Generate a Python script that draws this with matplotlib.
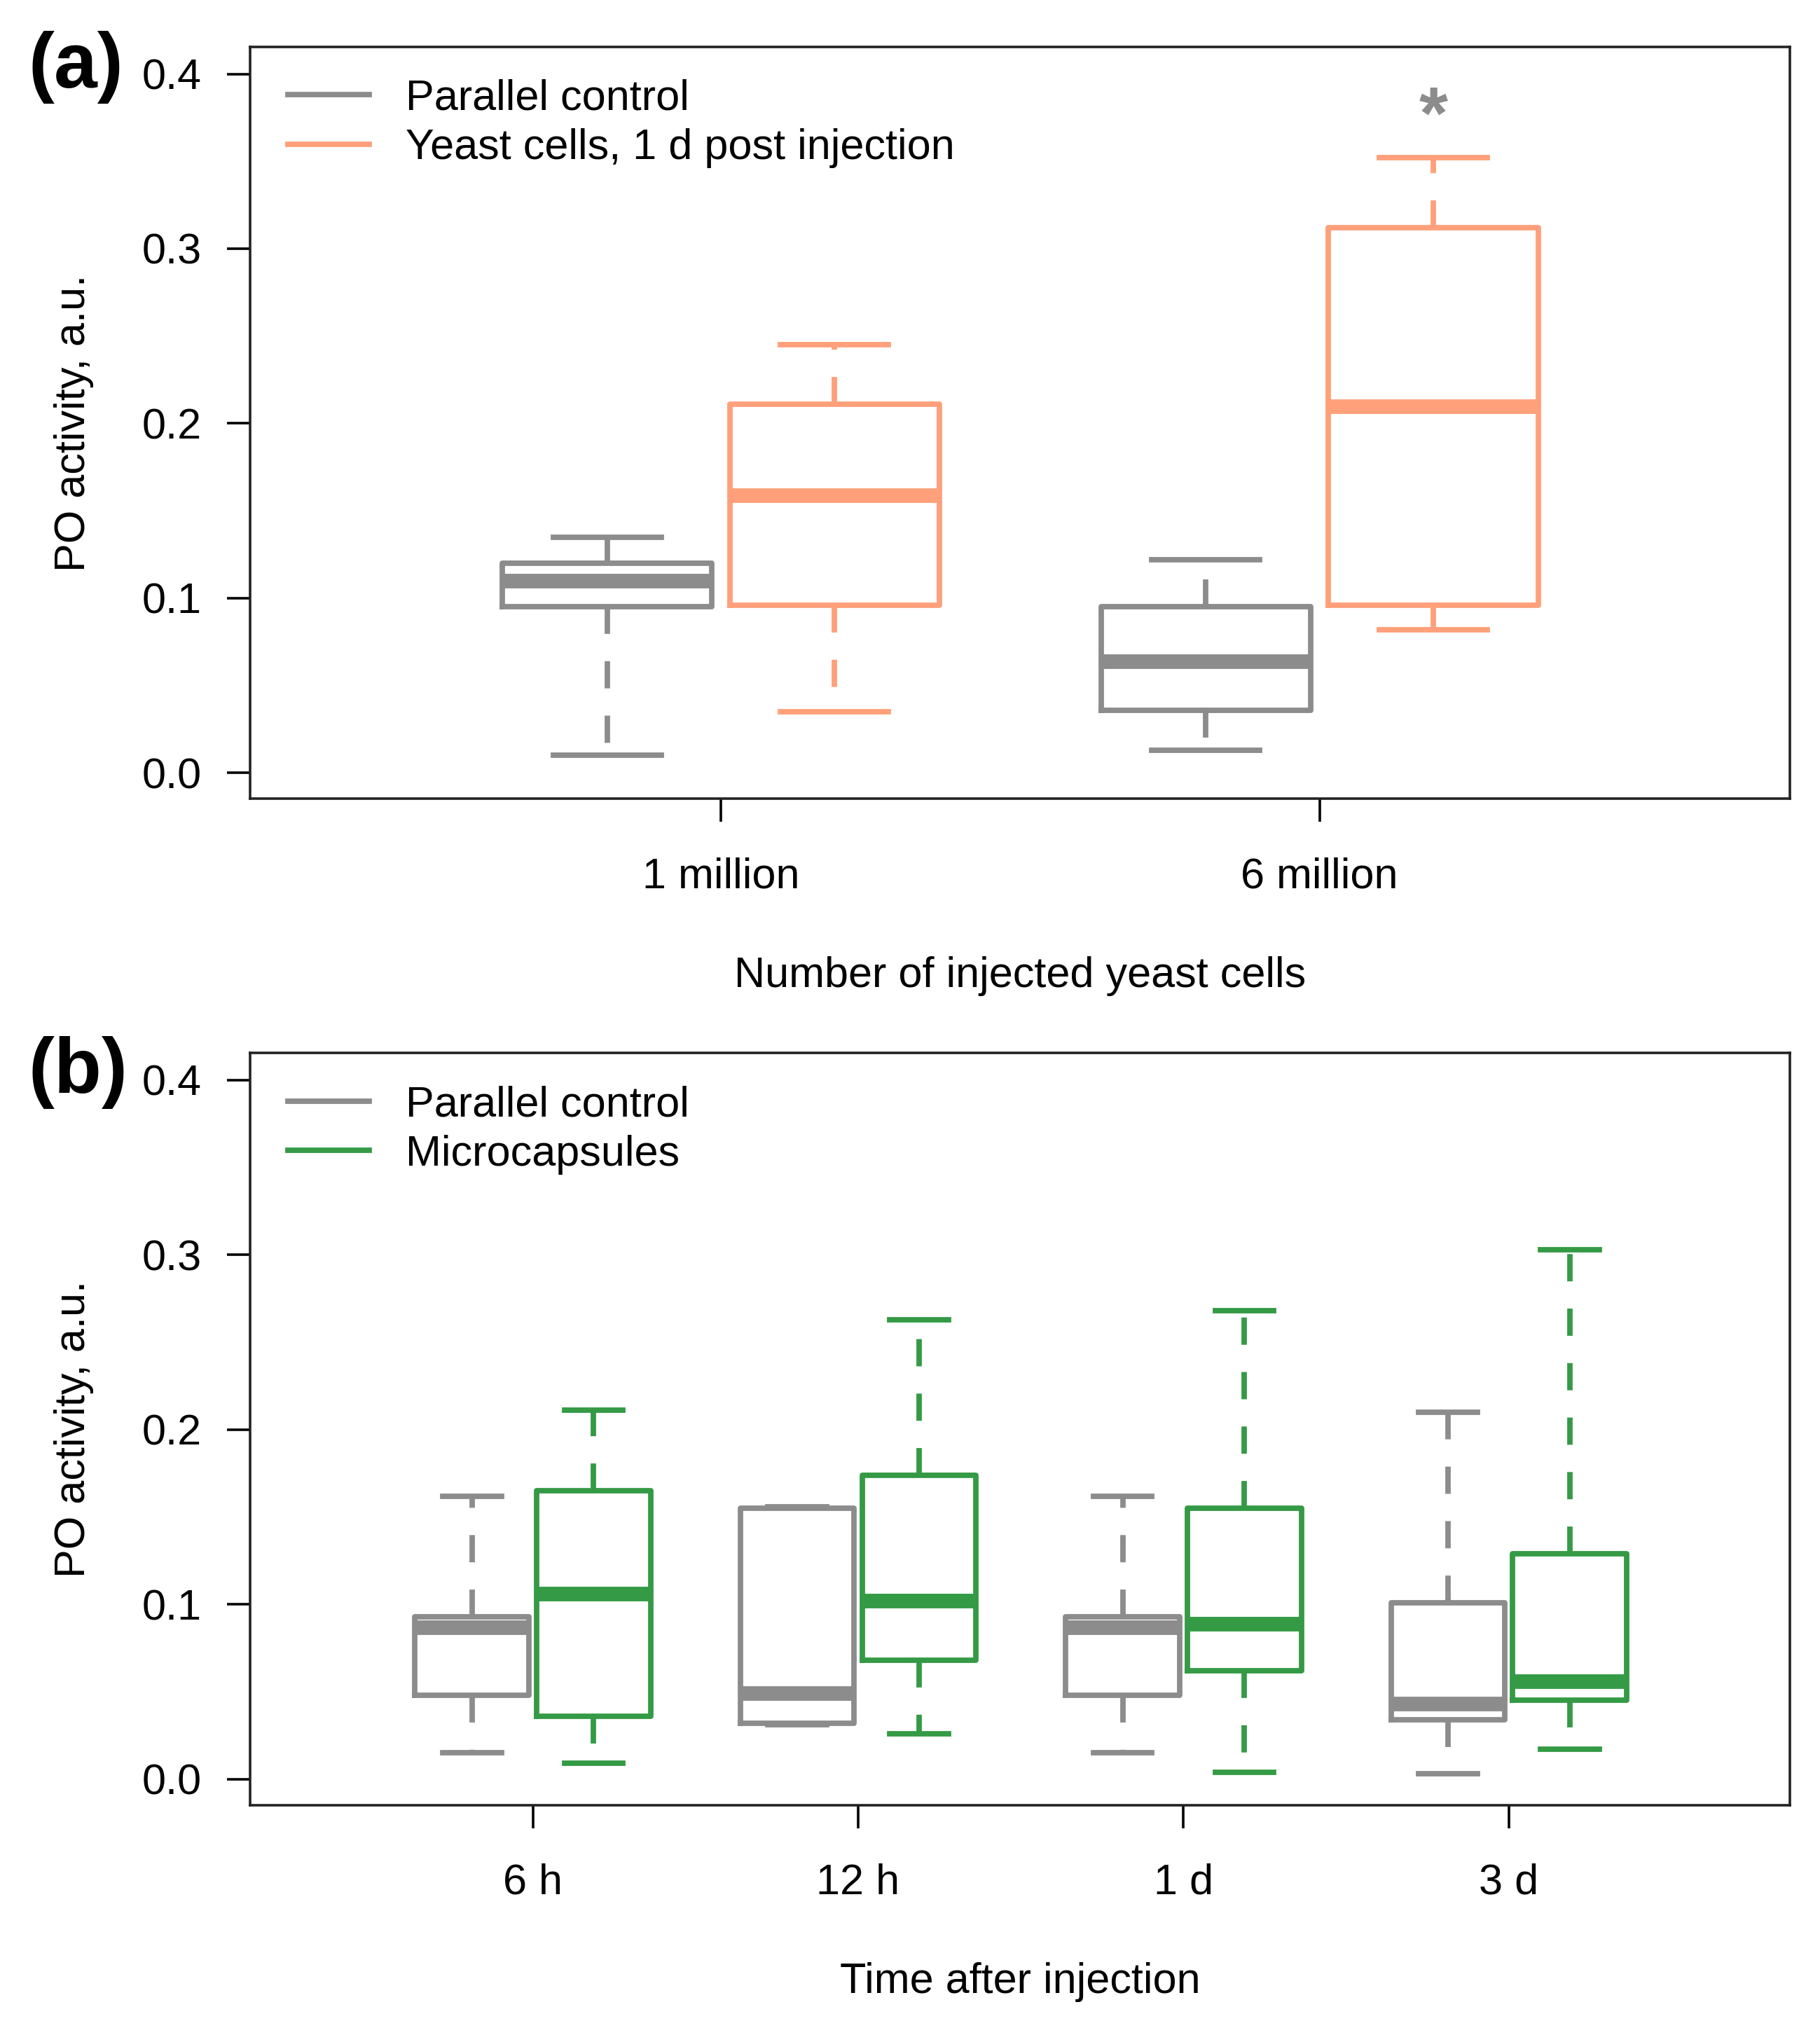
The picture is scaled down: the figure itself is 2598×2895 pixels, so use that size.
import matplotlib
matplotlib.use("Agg")
import matplotlib.pyplot as plt
from matplotlib.lines import Line2D

plt.rcParams['font.family'] = ['Liberation Sans', 'DejaVu Sans']

szary = '#8c8c8c'
losos = '#ffa07a'
zielony = '#349a45'

# panel a: 1 million, 6 million  (whislo, q1, med, q3, whishi)
grupy_a = ['1 million', '6 million']
kontrola_a = [[0.010, 0.095, 0.110, 0.120, 0.135],
              [0.013, 0.036, 0.064, 0.095, 0.122]]
drozdze_a = [[0.035, 0.096, 0.159, 0.211, 0.245],
             [0.082, 0.096, 0.210, 0.312, 0.352]]
gwiazdka_y = 0.383

# panel b: time after injection
grupy_b = ['6 h', '12 h', '1 d', '3 d']
kontrola_b = [[0.015, 0.048, 0.087, 0.093, 0.162],
              [0.031, 0.032, 0.049, 0.155, 0.156],
              [0.015, 0.048, 0.087, 0.093, 0.162],
              [0.003, 0.034, 0.043, 0.101, 0.210]]
kapsulki_b = [[0.009, 0.036, 0.106, 0.165, 0.211],
              [0.026, 0.068, 0.102, 0.174, 0.263],
              [0.004, 0.062, 0.089, 0.155, 0.268],
              [0.017, 0.045, 0.056, 0.129, 0.303]]


def staty(lista):
    return [dict(whislo=s[0], q1=s[1], med=s[2], q3=s[3], whishi=s[4], fliers=[]) for s in lista]


def pudelka(ax, dane, pozycje, kolor):
    ax.bxp(staty(dane), positions=pozycje, widths=0.35, showfliers=False,
           boxprops=dict(color=kolor, linewidth=2.8),
           medianprops=dict(color=kolor, linewidth=7.5, solid_capstyle='butt'),
           whiskerprops=dict(color=kolor, linewidth=2.8, linestyle=(0, (5, 5))),
           capprops=dict(color=kolor, linewidth=2.8),
           capwidths=0.18, manage_ticks=False)


def osie(ax, nazwy, xlab):
    ax.set_xticks(range(1, len(nazwy) + 1))
    ax.set_xticklabels(nazwy)
    ax.set_yticks([0.0, 0.1, 0.2, 0.3, 0.4])
    ax.set_yticklabels(['0.0', '0.1', '0.2', '0.3', '0.4'])
    ax.set_ylim(-0.0148, 0.4156)
    ax.tick_params(axis='both', labelsize=22, length=12, width=1.3)
    ax.tick_params(axis='y', pad=13)
    ax.tick_params(axis='x', pad=18)
    for s in ax.spines.values():
        s.set_linewidth(1.3)
        s.set_color('#222222')
    ax.text(0.5, -0.236, xlab, transform=ax.transAxes, ha='center', va='center', fontsize=22)


def legenda(ax, kolory, opisy):
    ax.legend([Line2D([], [], color=k, lw=2.8) for k in kolory], opisy,
              loc='upper left', bbox_to_anchor=(0.0244, 0.957), frameon=False, fontsize=22,
              handlelength=1.9, handletextpad=0.85, labelspacing=0.22, borderpad=0, borderaxespad=0)


fig = plt.figure(figsize=(12.99, 14.475), dpi=200)
ax1 = fig.add_axes([0.1375, 0.6061, 0.8461, 0.3709])
ax2 = fig.add_axes([0.1375, 0.1100, 0.8461, 0.3708])

x_a = list(range(1, len(grupy_a) + 1))
pudelka(ax1, kontrola_a, [x - 0.19 for x in x_a], szary)
pudelka(ax1, drozdze_a, [x + 0.19 for x in x_a], losos)
ax1.set_xlim(0.214, 2.786)
osie(ax1, grupy_a, 'Number of injected yeast cells')
ax1.text(2 + 0.19, gwiazdka_y - 0.009, '*', ha='center', va='center', fontsize=38,
         fontweight='bold', color=szary)
legenda(ax1, [szary, losos], ['Parallel control', 'Yeast cells, 1 d post injection'])

x_b = list(range(1, len(grupy_b) + 1))
pudelka(ax2, kontrola_b, [x - 0.187 for x in x_b], szary)
pudelka(ax2, kapsulki_b, [x + 0.187 for x in x_b], zielony)
ax2.set_xlim(0.1315, 4.8645)
osie(ax2, grupy_b, 'Time after injection')
legenda(ax2, [szary, zielony], ['Parallel control', 'Microcapsules'])

for y, lit in [(0.967, '(a)'), (0.4712, '(b)')]:
    fig.text(0.0157, y, lit, ha='left', va='center', fontsize=40, fontweight='bold')
for ax in (ax1, ax2):
    pos = ax.get_position()
    fig.text(0.0406, (pos.y0 + pos.y1) / 2, 'PO activity, a.u.', rotation=90,
             ha='center', va='center', fontsize=22)

fig.savefig('out.png', dpi=200)
